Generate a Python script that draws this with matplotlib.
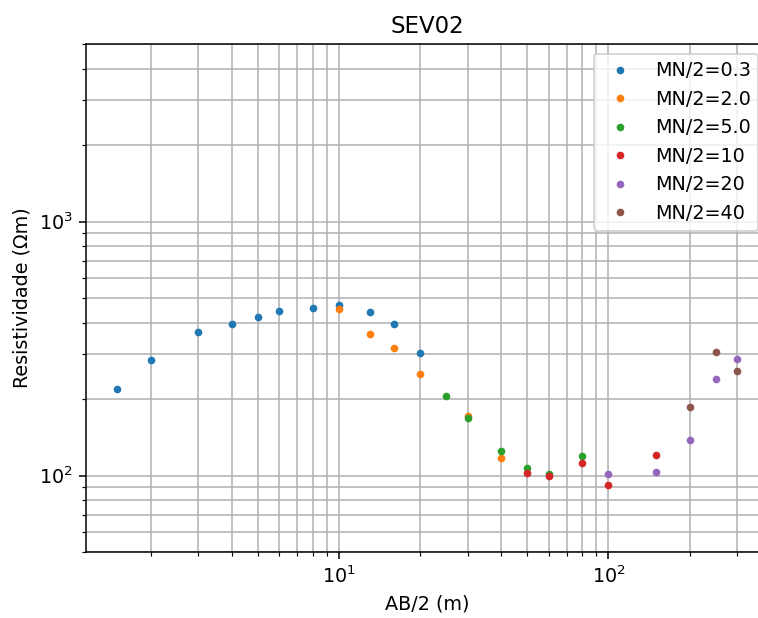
import matplotlib
matplotlib.use("Agg")
import matplotlib.pyplot as plt

# MN/2 = 0.3
x_03 = [1.5, 2, 3, 4, 5, 6, 8, 10, 13, 16, 20]
y_03 = [219, 285, 366, 394, 420, 446, 458, 469, 440, 394, 303]
# MN/2 = 2.0
x_20 = [10, 13, 16, 20, 30, 40]
y_20 = [454, 362, 319, 252, 172, 117]
# MN/2 = 5.0
x_50 = [25, 30, 40, 50, 60, 80]
y_50 = [206, 168, 125, 107, 101, 119]
# MN/2 = 10
x_10 = [50, 60, 80, 100, 150]
y_10 = [102, 100, 112, 92, 121]
# MN/2 = 20
x_m20 = [100, 150, 200, 250, 300]
y_m20 = [101, 103, 138, 239, 288]
# MN/2 = 40
x_40 = [200, 250, 300]
y_40 = [186, 306, 258]

labels = ["MN/2=0.3", "MN/2=2.0", "MN/2=5.0", "MN/2=10", "MN/2=20", "MN/2=40"]
series = [(x_03, y_03), (x_20, y_20), (x_50, y_50), (x_10, y_10), (x_m20, y_m20), (x_40, y_40)]

dpi = 137.5
fig = plt.figure(figsize=(758 / dpi, 618 / dpi), dpi=dpi)
W, H = 758, 618
left, right, top, bottom = 86, 768, 44, 552
ax = fig.add_axes([left / W, 1 - bottom / H, (right - left) / W, (bottom - top) / H])

for (xs, ys), lab in zip(series, labels):
    ax.loglog(xs, ys, '.', label=lab)

ax.set_ylim(50, 5000)
ax.set_xlim(1.15, 391)
ax.grid(True, which='both')
ax.set_xlabel("AB/2 (m)")
ax.set_ylabel("Resistividade (\u03a9m)")
ax.set_title("SEV02")
ax.legend(loc='upper right')

fig.savefig("out.png", dpi=dpi)
